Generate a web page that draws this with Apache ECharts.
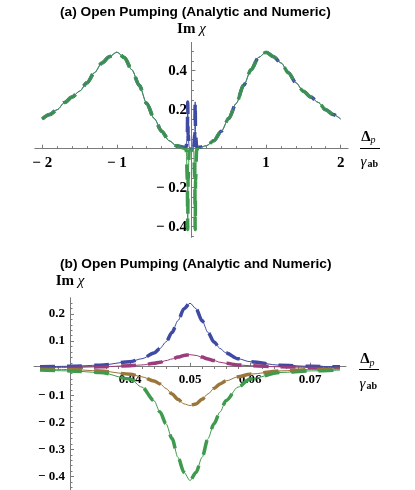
<!DOCTYPE html>
<html>
<head>
<meta charset="utf-8">
<script src="https://cdn.jsdelivr.net/npm/echarts@6/dist/echarts.min.js"></script>
<style>
html, body { margin: 0; background: #fff; }
#chart { width: 415px; height: 490px; }
</style>
</head>
<body>
<div id="chart"></div>
<script>
// (a) full detuning range, Im chi vs Delta_p / gamma_ab
const topX = [
  -2, -1.9, -1.8, -1.7, -1.6, -1.5, -1.4, -1.3, -1.2, -1.1, -1, -0.9, -0.8, -0.7, -0.6, -0.5, -0.4, -0.3, -0.2, -0.1,
  -0.07, -0.055, -0.05, -0.045, -0.03, 0, 0.03, 0.045, 0.05, 0.055, 0.07,
  0.1, 0.2, 0.3, 0.4, 0.5, 0.6, 0.7, 0.8, 0.9, 1, 1.1, 1.2, 1.3, 1.4, 1.5, 1.6, 1.7, 1.8, 1.9, 2
]
const topBlue = [
  0.152, 0.175, 0.2, 0.237, 0.265, 0.295, 0.338, 0.39, 0.44, 0.472, 0.495, 0.468, 0.405, 0.325, 0.232, 0.155, 0.09, 0.041, 0.015, 0.007,
  0.008, 0.073, 0.24, 0.073, 0.007, 0, 0.007, 0.073, 0.24, 0.073, 0.008,
  0.007, 0.015, 0.041, 0.09, 0.155, 0.232, 0.325, 0.405, 0.468, 0.495, 0.472, 0.44, 0.39, 0.338, 0.295, 0.265, 0.237, 0.2, 0.175, 0.152
]
const topGreen = [
  0.152, 0.175, 0.2, 0.237, 0.265, 0.295, 0.338, 0.39, 0.44, 0.472, 0.495, 0.468, 0.405, 0.325, 0.232, 0.155, 0.09, 0.041, 0.015, 0.002,
  -0.004, -0.16, -0.415, -0.16, -0.01, 0, -0.01, -0.16, -0.415, -0.16, -0.004,
  0.002, 0.015, 0.041, 0.09, 0.155, 0.232, 0.325, 0.405, 0.468, 0.495, 0.472, 0.44, 0.39, 0.338, 0.295, 0.265, 0.237, 0.2, 0.175, 0.152
]

// (b) zoom around the resonance at 0.05
const botX = [
  0.025, 0.03, 0.035, 0.04, 0.042, 0.044, 0.045, 0.046, 0.047, 0.048, 0.049, 0.05,
  0.051, 0.052, 0.053, 0.054, 0.055, 0.056, 0.058, 0.06, 0.065, 0.07, 0.075
]
const botBlue = [
  0.005, 0.007, 0.011, 0.024, 0.035, 0.056, 0.073, 0.097, 0.132, 0.176, 0.22, 0.24,
  0.22, 0.176, 0.132, 0.097, 0.073, 0.056, 0.035, 0.024, 0.011, 0.007, 0.005
]
const botPurple = [
  0.002, 0.003, 0.005, 0.009, 0.012, 0.018, 0.022, 0.028, 0.034, 0.041, 0.047, 0.05,
  0.047, 0.041, 0.034, 0.028, 0.022, 0.018, 0.012, 0.009, 0.005, 0.003, 0.002
]
const botBrown = [
  -0.003, -0.005, -0.01, -0.022, -0.032, -0.047, -0.058, -0.075, -0.095, -0.115, -0.132, -0.138,
  -0.132, -0.115, -0.095, -0.075, -0.058, -0.047, -0.032, -0.022, -0.01, -0.005, -0.003
]
const botGreen = [
  -0.007, -0.01, -0.016, -0.04, -0.07, -0.12, -0.162, -0.205, -0.26, -0.33, -0.385, -0.415,
  -0.385, -0.33, -0.26, -0.205, -0.162, -0.12, -0.07, -0.04, -0.016, -0.01, -0.007
]

// ticks
const topXMajor = [-2, -1, 0, 1, 2]
const topXLabels = [-2, -1, 1, 2]
const topYMajor = [-0.4, -0.2, 0, 0.2, 0.4]
const topYLabels = [-0.4, -0.2, 0.2, 0.4]
const botXMajor = [0.03, 0.04, 0.05, 0.06, 0.07]
const botXLabels = [0.04, 0.05, 0.06, 0.07]
const botYMajor = [-0.4, -0.3, -0.2, -0.1, 0, 0.1, 0.2]
const botYLabels = [-0.4, -0.3, -0.2, -0.1, 0.1, 0.2]

function minorTicks(from, to, step, major) {
  const out = []
  const n = Math.round((to - from) / step)
  for (let i = 0; i <= n; i++) {
    const v = +(from + i * step).toFixed(4)
    if (Math.abs(v / major - Math.round(v / major)) > 1e-6) out.push(v)
  }
  return out
}

const BLUE = "#3e4aa3"
const PURPLE = "#9b3d7d"
const BROWN = "#9a763c"
const GREEN = "#3e9a4c"
const AXIS = "#7a7a7a"
const SERIF = "'Liberation Serif', 'Times New Roman', serif"
const SANS = "'Liberation Sans', Arial, sans-serif"

const fmt = (v) => (v < 0 ? "\u2212 " + Math.abs(v) : String(v))

// axes are moved onto the other axis' origin with (negative) offsets
function mainX(grid, min, max, major, labels, size, margin, offset) {
  return {
    type: "value", gridIndex: grid, position: "bottom", min, max, offset,
    axisLine: { onZero: false, lineStyle: { color: AXIS, width: 1 } },
    axisTick: { customValues: major, inside: true, length: 4, lineStyle: { color: AXIS } },
    axisLabel: {
      customValues: labels, formatter: fmt, margin,
      fontFamily: SERIF, fontWeight: "bold", fontSize: size, color: "#000",
    },
    splitLine: { show: false },
  }
}
function minorX(grid, min, max, ticks, offset) {
  return {
    type: "value", gridIndex: grid, position: "top", min, max, offset,
    axisLine: { show: false, onZero: false },
    axisTick: { show: true, customValues: ticks, inside: false, length: 2.5, lineStyle: { color: AXIS } },
    axisLabel: { show: false },
    splitLine: { show: false },
  }
}
function mainY(grid, min, max, major, labels, size, margin, offset, gap) {
  return {
    type: "value", gridIndex: grid, position: "left", min, max, offset,
    axisLine: { onZero: false, lineStyle: { color: AXIS, width: 1 } },
    axisTick: { customValues: major, inside: true, length: 4, lineStyle: { color: AXIS } },
    axisLabel: {
      customValues: labels, formatter: fmt, margin,
      fontFamily: SERIF, fontWeight: "bold", fontSize: size, color: "#000",
    },
    splitLine: { show: false },
    name: "{b|Im} {i|\u03c7}",
    nameLocation: "end",
    nameGap: gap,
    nameTextStyle: {
      align: "center", verticalAlign: "middle", fontSize: 15, fontFamily: SERIF,
      rich: {
        b: { fontFamily: SERIF, fontWeight: "bold", fontSize: 15, color: "#000" },
        i: { fontFamily: SERIF, fontStyle: "italic", fontSize: 15, color: "#000" },
      },
    },
  }
}
function minorY(grid, min, max, ticks, offset) {
  return {
    type: "value", gridIndex: grid, position: "right", min, max, offset,
    axisLine: { show: false, onZero: false },
    axisTick: { show: true, customValues: ticks, inside: false, length: 2.5, lineStyle: { color: AXIS } },
    axisLabel: { show: false },
    splitLine: { show: false },
  }
}

function pairs(xs, ys) {
  return xs.map((x, i) => [x, ys[i]])
}
function dashed(xi, yi, xs, ys, color) {
  return {
    type: "line", xAxisIndex: xi, yAxisIndex: yi, data: pairs(xs, ys),
    showSymbol: false, smooth: 0.3, smoothMonotone: "x",
    lineStyle: { color, width: 3.5, type: [15, 12] },
  }
}
function thin(xi, yi, xs, ys, color) {
  return {
    type: "line", xAxisIndex: xi, yAxisIndex: yi, data: pairs(xs, ys),
    showSymbol: false, smooth: 0.3, smoothMonotone: "x",
    lineStyle: { color, width: 1 },
  }
}

function fraction(cx, yNum, yBar, yDen) {
  return [
    { type: "text", x: cx - 4, y: yNum, style: { text: "\u0394", font: "bold 15px " + SERIF, fill: "#000", align: "center", verticalAlign: "middle" } },
    { type: "text", x: cx + 0.5, y: yNum + 3.5, style: { text: "p", font: "italic 10px " + SERIF, fill: "#000", align: "left", verticalAlign: "middle" } },
    { type: "line", shape: { x1: cx - 10, y1: yBar, x2: cx + 10, y2: yBar }, style: { stroke: "#000", lineWidth: 1 } },
    { type: "text", x: cx - 6.5, y: yDen, style: { text: "\u03b3", font: "italic 15px " + SERIF, fill: "#000", align: "center", verticalAlign: "middle" } },
    { type: "text", x: cx - 2.5, y: yDen + 2, style: { text: "ab", font: "bold 10px " + SERIF, fill: "#000", align: "left", verticalAlign: "middle" } },
  ]
}

// grid (a): x -2.1..2.1, y -0.455..0.545 ; grid (b): x 0.024..0.076, y -0.45..0.26
const gA = { left: 34.8, top: 42.4, width: 313.3, height: 195 }
const gB = { left: 34, top: 297.8, width: 312, height: 194.5 }
const zeroYA = gA.top + 0.545 * gA.height
const zeroXA = gA.left + 2.1 / 4.2 * gA.width
const zeroYB = gB.top + 0.26 / 0.71 * gB.height
const axisXB = gB.left + (0.03 - 0.024) / 0.052 * gB.width

const chart = echarts.init(document.getElementById("chart"))
chart.setOption({
  animation: false,
  backgroundColor: "#fff",
  title: [
    { text: "(a) Open Pumping (Analytic and Numeric)", left: 55, top: 0,
      textStyle: { fontFamily: SANS, fontWeight: "bold", fontSize: 13.7, color: "#000" } },
    { text: "(b) Open Pumping (Analytic and Numeric)", left: 55, top: 252,
      textStyle: { fontFamily: SANS, fontWeight: "bold", fontSize: 13.7, color: "#000" } },
  ],
  grid: [gA, gB],
  xAxis: [
    mainX(0, -2.1, 2.1, topXMajor, topXLabels, 15, 7, zeroYA - (gA.top + gA.height)),
    minorX(0, -2.1, 2.1, minorTicks(-2, 2, 0.2, 1), gA.top - zeroYA),
    mainX(1, 0.024, 0.076, botXMajor, botXLabels, 13, 6, zeroYB - (gB.top + gB.height)),
    minorX(1, 0.024, 0.076, minorTicks(0.026, 0.074, 0.002, 0.01), gB.top - zeroYB),
  ],
  yAxis: [
    mainY(0, -0.455, 0.545, topYMajor, topYLabels, 15, 4.5, gA.left - zeroXA, 13),
    minorY(0, -0.455, 0.545, minorTicks(-0.45, 0.5, 0.05, 0.2), zeroXA - (gA.left + gA.width)),
    mainY(1, -0.45, 0.26, botYMajor, botYLabels, 13, 5, gB.left - axisXB, 17),
    minorY(1, -0.45, 0.26, minorTicks(-0.44, 0.24, 0.02, 0.1), axisXB - (gB.left + gB.width)),
  ],
  graphic: [...fraction(370, 136.7, 148.5, 162), ...fraction(369, 359.5, 369.5, 384.5)],
  series: [
    dashed(0, 0, topX, topBlue, BLUE),
    dashed(0, 0, topX, topGreen, GREEN),
    thin(0, 0, topX, topBlue, BLUE),
    thin(0, 0, topX, topGreen, GREEN),

    dashed(2, 2, botX, botBlue, BLUE),
    dashed(2, 2, botX, botPurple, PURPLE),
    dashed(2, 2, botX, botBrown, BROWN),
    dashed(2, 2, botX, botGreen, GREEN),
    thin(2, 2, botX, botBlue, BLUE),
    thin(2, 2, botX, botPurple, PURPLE),
    thin(2, 2, botX, botBrown, BROWN),
    thin(2, 2, botX, botGreen, GREEN),
  ],
})
</script>
</body>
</html>
